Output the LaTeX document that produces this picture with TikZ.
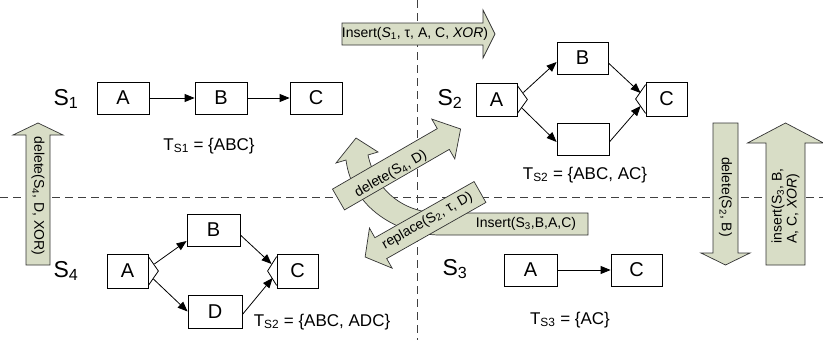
\documentclass[tikz,border=0pt]{standalone}
\usepackage{fontspec}
\setmainfont{Liberation Sans}
\usetikzlibrary{arrows.meta}

\definecolor{blockfill}{RGB}{216,221,198}

% straight block arrow along the local x axis: length, body half width, head half width, head length
\newcommand\blockarrowpath[4]{%
  \path[blockarrow] (0,-#2) -- ({#1-#4},-#2) -- ({#1-#4},-#3) -- (#1,0)
    -- ({#1-#4},#3) -- ({#1-#4},#2) -- (0,#2) -- cycle;}

\tikzset{
  task/.style={draw, line width=0.8pt, minimum height=32pt, inner sep=0pt,
    font=\fontsize{20}{22}\selectfont},
  flow/.style={line width=0.8pt, -{Triangle[length=10pt,width=8pt]}},
  gate/.style={draw, line width=0.8pt},
  divider/.style={draw=black!75, line width=0.9pt, dash pattern=on 8pt off 5pt},
  blockarrow/.style={draw=black!80, fill=blockfill, line width=0.7pt},
  oplabel/.style={font=\fontsize{14}{15}\selectfont, inner sep=0pt},
  schema/.style={font=\fontsize{23}{25}\selectfont, inner sep=0pt},
  trace/.style={font=\fontsize{17}{19}\selectfont, inner sep=0pt},
}

\begin{document}
\begin{tikzpicture}[x=1pt, y=1pt]
\path[fill=white] (0,0) rectangle (823,-340);
\useasboundingbox (0,0) rectangle (823,-340);

% quadrant dividers
\draw[divider] (0,-197) -- (823,-197);
\draw[divider] (417,0) -- (417,-340);

% ---- S1 : sequence A -> B -> C
\node[schema] (s1) at (66,-99) {S\textsubscript{1}};
\node[task, minimum width=52pt] (a1) at (123,-98) {A};
\node[task, minimum width=52pt] (b1) at (221,-98) {B};
\node[task, minimum width=52pt] (c1) at (316,-98) {C};
\draw[flow] (a1) -- (b1);
\draw[flow] (b1) -- (c1);
\node[trace] (t1) at (209,-146) {T\textsubscript{S1} = \{ABC\}};

% ---- S2 : XOR split around B and an empty task
\node[schema] (s2) at (450,-99) {S\textsubscript{2}};
\node[task, minimum width=41pt, minimum height=33pt] (a2) at (496.5,-99.5) {A};
\node[task, minimum width=51pt] (b2) at (582.5,-58) {B};
\node[task, minimum width=52pt] (e2) at (583,-139) {};
\node[task, minimum width=41pt, minimum height=34pt] (c2) at (666.5,-99) {C};
\draw[gate] ([yshift=-3pt]a2.north east) -- ([xshift=10pt]a2.east) -- ([yshift=3pt]a2.south east);
\draw[gate] ([yshift=-3pt]c2.north west) -- ([xshift=-10pt]c2.west) -- ([yshift=3pt]c2.south west);
\coordinate (a2u) at ([shift={(6pt,7pt)}]a2.east);
\coordinate (a2d) at ([shift={(4pt,-8pt)}]a2.east);
\coordinate (c2u) at ([shift={(-5pt,6pt)}]c2.west);
\coordinate (c2d) at ([shift={(-5pt,-7pt)}]c2.west);
\draw[flow] (a2u) -- ([yshift=-4pt]b2.west);
\draw[flow] (a2d) -- ([yshift=-3pt]e2.west);
\draw[flow] ([yshift=-5pt]b2.east) -- (c2u);
\draw[flow] ([yshift=-3pt]e2.east) -- (c2d);
\node[trace] (t2) at (585,-175) {T\textsubscript{S2} = \{ABC, AC\}};

% ---- S3 : A -> C
\node[schema] (s3) at (455,-269) {S\textsubscript{3}};
\node[task, minimum width=53pt] (a3) at (530.5,-270) {A};
\node[task, minimum width=51pt] (c3) at (636.5,-270) {C};
\draw[flow] (a3) -- (c3);
\node[trace] (t3) at (570,-320) {T\textsubscript{S3} = \{AC\}};

% ---- S4 : XOR split around B and D
\node[schema] (s4) at (66,-271) {S\textsubscript{4}};
\node[task, minimum width=41pt, minimum height=34pt] (a4) at (127.5,-271) {A};
\node[task, minimum width=53pt] (b4) at (213.5,-230) {B};
\node[task, minimum width=54pt, minimum height=33pt] (d4) at (215,-311.5) {D};
\node[task, minimum width=41pt, minimum height=34pt] (c4) at (297.5,-271) {C};
\draw[gate] ([yshift=-3pt]a4.north east) -- ([xshift=10pt]a4.east) -- ([yshift=3pt]a4.south east);
\draw[gate] ([yshift=-3pt]c4.north west) -- ([xshift=-9pt]c4.west) -- ([yshift=3pt]c4.south west);
\coordinate (a4u) at ([shift={(6pt,7pt)}]a4.east);
\coordinate (a4d) at ([shift={(5pt,-8pt)}]a4.east);
\coordinate (c4u) at ([shift={(-5pt,7pt)}]c4.west);
\coordinate (c4d) at ([shift={(-4pt,-7pt)}]c4.west);
\draw[flow] (a4u) -- ([yshift=-11pt]b4.west);
\draw[flow] (a4d) -- (d4.west);
\draw[flow] ([yshift=-5pt]b4.east) -- (c4u);
\draw[flow] ([yshift=-3pt]d4.east) -- (c4d);
\node[trace] (t4) at (322,-322) {T\textsubscript{S2} = \{ABC, ADC\}};

% ---- change operations between the schemas
\begin{scope}[shift={(342,-34)}]
  \blockarrowpath{153}{11}{24}{12}
\end{scope}
\node[oplabel] (op1) at (415,-34) {Insert(\textit{S}\textsubscript{1}, τ, A, C, \textit{XOR})};

\begin{scope}[shift={(38,-265)}, rotate=90]
  \blockarrowpath{142}{12}{25}{12}
\end{scope}
\node[oplabel, rotate=-90] (op2) at (38,-196) {delete(S\textsubscript{4}, D, XOR)};

\begin{scope}[shift={(725.5,-123)}, rotate=-90]
  \blockarrowpath{142}{12.5}{24.5}{12}
\end{scope}
\node[oplabel, rotate=-90] (op3) at (725.5,-197) {delete(S\textsubscript{2}, B)};

\begin{scope}[shift={(785.5,-265)}, rotate=90]
  \blockarrowpath{142}{19.5}{38}{20}
\end{scope}
\node[oplabel, rotate=90, align=left] (op4) at (785.5,-206)
  {insert(S\textsubscript{3}, B,\\A, C, \textit{XOR})};

% curved operation from S3 back up to S1
\path[blockarrow] (588,-213) -- (440,-213)
  .. controls (405,-213) and (376,-192) .. (368,-155)
  -- (378,-152) -- (356,-138) -- (336,-163) -- (346,-160)
  .. controls (352,-208) and (398,-235) .. (440,-235)
  -- (588,-235) -- cycle;
\node[oplabel] (op5) at (526,-224) {Insert(S\textsubscript{3},B,A,C)};

\begin{scope}[shift={(338.5,-199.5)}, rotate=30]
  \blockarrowpath{141}{12}{23}{20}
\end{scope}
\node[oplabel, rotate=30] (op6) at (391,-174) {delete(S\textsubscript{4}, D)};

\begin{scope}[shift={(480,-192)}, rotate=209.5]
  \blockarrowpath{132}{12}{23}{18}
\end{scope}
\node[oplabel, rotate=29.5] (op7) at (427.5,-221) {replace(S\textsubscript{2}, τ, D)};

\end{tikzpicture}
\end{document}
